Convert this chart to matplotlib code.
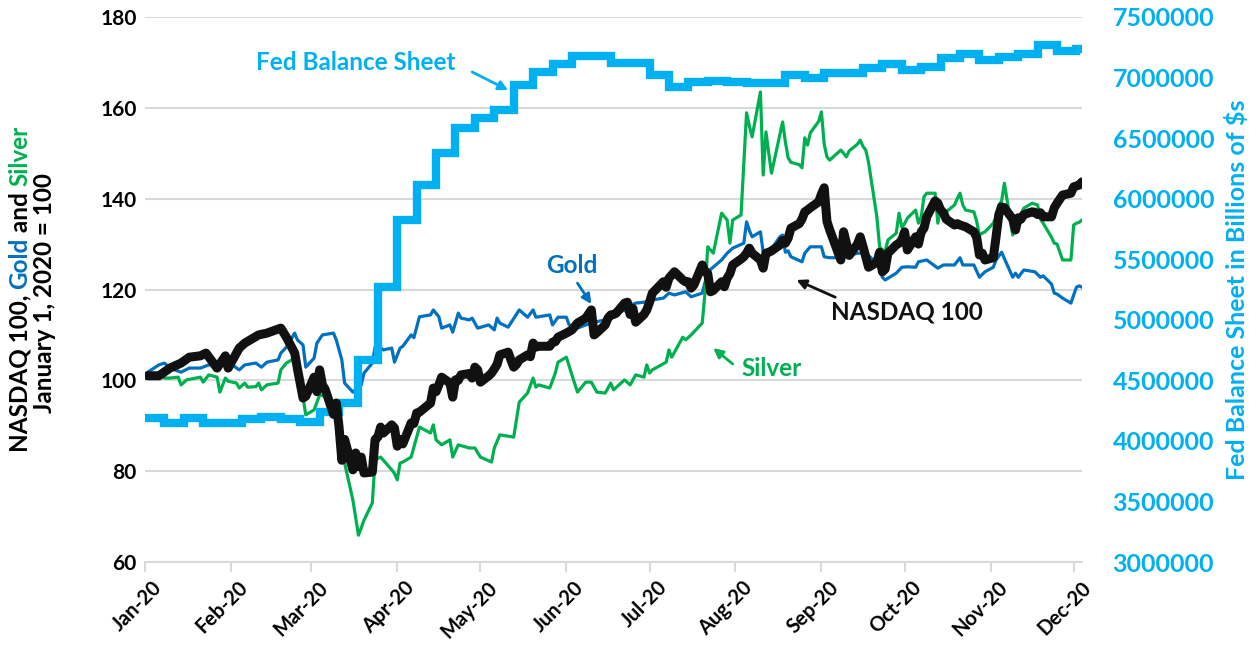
import matplotlib
matplotlib.use("Agg")
import matplotlib.pyplot as plt
import matplotlib.dates as mdates
import matplotlib.ticker as mticker
import matplotlib.transforms as mtransforms
import pandas as pd

plt.rcParams['font.family'] = ['Lato', 'DejaVu Sans']
plt.rcParams['font.weight'] = 'bold'

# ---------------- data ----------------
nasdaq_dates = [
    "01-02", "01-06", "01-10", "01-14", "01-17", "01-21", "01-23", "01-27", "01-30", "01-31",
    "02-04", "02-06", "02-11", "02-14", "02-19", "02-21", "02-24", "02-25", "02-27", "02-28",
    "03-02", "03-03", "03-04", "03-05", "03-06", "03-09", "03-10", "03-11", "03-12", "03-13", "03-16",
    "03-17", "03-18", "03-19", "03-20", "03-23", "03-24", "03-25", "03-26", "03-27", "03-30", "03-31",
    "04-01", "04-02", "04-03", "04-06", "04-07", "04-08", "04-09", "04-13", "04-14", "04-15", "04-16",
    "04-17", "04-20", "04-21", "04-22", "04-23", "04-24", "04-27", "04-28", "04-29", "04-30",
    "05-01", "05-04", "05-05", "05-06", "05-07", "05-08", "05-11", "05-12", "05-13", "05-14",
    "05-15", "05-18", "05-19", "05-20", "05-21", "05-22", "05-26", "05-27", "05-28", "05-29",
    "06-01", "06-03", "06-05", "06-08", "06-10", "06-11", "06-12", "06-15", "06-16", "06-17",
    "06-18", "06-19", "06-22", "06-23", "06-24", "06-25", "06-26", "06-29", "06-30",
    "07-01", "07-02", "07-06", "07-07", "07-08", "07-09", "07-10", "07-13", "07-14", "07-15", "07-16",
    "07-17", "07-20", "07-21", "07-22", "07-23", "07-24", "07-27", "07-28", "07-29", "07-30", "07-31",
    "08-03", "08-04", "08-05", "08-06", "08-07", "08-10", "08-11", "08-12", "08-13", "08-14",
    "08-17", "08-18", "08-19", "08-20", "08-21", "08-24", "08-25", "08-26", "08-27", "08-28", "08-31",
    "09-01", "09-02", "09-03", "09-04", "09-08", "09-09", "09-10", "09-11", "09-14", "09-15",
    "09-16", "09-17", "09-18", "09-21", "09-22", "09-23", "09-24", "09-25", "09-28", "09-29", "09-30",
    "10-01", "10-02", "10-05", "10-06", "10-07", "10-08", "10-09", "10-12", "10-13", "10-14", "10-15",
    "10-16", "10-19", "10-20", "10-21", "10-22", "10-23", "10-26", "10-27", "10-28", "10-29", "10-30",
    "11-02", "11-03", "11-04", "11-05", "11-06", "11-09", "11-10", "11-11", "11-12", "11-13",
    "11-16", "11-17", "11-18", "11-19", "11-20", "11-23", "11-24", "11-25", "11-27", "11-30",
    "12-01", "12-02", "12-03", "12-04",
]
nasdaq_values = [
    101.0, 101.0, 102.7, 103.8, 105.1, 105.4, 106.0, 102.7, 105.4, 102.7,
    107.1, 108.2, 110.0, 110.4, 111.5, 109.5, 106.0, 102.5, 96.1, 96.5,
    100.7, 97.5, 102.3, 99.0, 98.0, 92.5, 95.0, 89.7, 82.4, 87.0, 80.3,
    84.0, 81.0, 83.1, 79.6, 79.8, 87.0, 87.5, 89.7, 88.4, 90.2, 89.5,
    85.5, 87.0, 86.0, 90.6, 90.5, 92.8, 93.0, 95.0, 98.3, 97.5, 99.0,
    100.7, 99.4, 96.3, 100.1, 100.0, 101.2, 101.5, 100.5, 102.9, 102.3,
    99.6, 101.0, 101.6, 102.5, 103.5, 105.6, 106.2, 104.5, 102.9, 103.5,
    104.5, 105.6, 105.2, 108.2, 107.3, 107.5, 107.5, 108.4, 108.5, 109.5,
    110.4, 111.1, 112.6, 113.7, 115.5, 110.0, 110.5, 112.2, 113.7, 114.4,
    114.5, 114.8, 117.0, 117.2, 114.5, 115.8, 112.8, 114.5, 115.5,
    117.2, 119.2, 121.7, 120.5, 122.5, 123.2, 123.9, 122.1, 121.7, 121.7, 120.3,
    121.0, 125.4, 124.0, 123.5, 119.5, 119.8, 121.7, 120.6, 122.5, 123.5, 125.4,
    126.7, 127.2, 128.0, 129.1, 128.0, 126.5, 124.7, 128.0, 128.2, 128.5,
    129.8, 130.8, 130.2, 131.3, 133.5, 134.5, 135.5, 137.1, 137.5, 138.0, 139.3,
    141.0, 142.4, 135.0, 133.1, 126.5, 132.7, 130.2, 127.5, 130.0, 131.6,
    129.5, 127.2, 124.9, 126.0, 128.2, 123.9, 124.5, 128.0, 129.8, 130.2, 130.9,
    132.7, 128.7, 131.6, 130.0, 132.7, 133.5, 136.0, 139.5, 139.0, 137.5, 136.9,
    135.5, 134.2, 134.5, 134.2, 134.0, 133.8, 132.7, 131.5, 127.6, 128.0, 126.5,
    127.0, 131.6, 136.5, 138.2, 138.0, 135.5, 133.1, 135.8, 135.5, 136.5,
    137.1, 137.0, 136.5, 136.9, 136.0, 136.0, 138.0, 139.0, 140.8, 141.2,
    142.6, 142.8, 143.0, 143.7,
]

gold_dates = [
    "01-02", "01-06", "01-08", "01-10", "01-14", "01-17", "01-21", "01-24", "01-29", "01-31",
    "02-04", "02-06", "02-10", "02-12", "02-14", "02-18", "02-19", "02-21", "02-24", "02-25", "02-27", "02-28",
    "03-02", "03-03", "03-05", "03-09", "03-10", "03-12", "03-13", "03-16", "03-19", "03-20",
    "03-23", "03-24", "03-25", "03-27", "03-30", "03-31",
    "04-02", "04-03", "04-06", "04-07", "04-09", "04-13", "04-14", "04-16", "04-17", "04-20",
    "04-21", "04-23", "04-24", "04-27", "04-28", "04-30",
    "05-04", "05-06", "05-07", "05-08", "05-11", "05-15", "05-18", "05-20", "05-21", "05-26", "05-27", "05-29",
    "06-01", "06-02", "06-05", "06-08", "06-11", "06-15", "06-18", "06-22", "06-23", "06-24", "06-26", "06-29",
    "07-02", "07-06", "07-08", "07-10", "07-14", "07-16", "07-20", "07-22", "07-27", "07-29", "07-31",
    "08-04", "08-05", "08-06", "08-07", "08-10", "08-11", "08-13", "08-17", "08-18", "08-19",
    "08-20", "08-21", "08-25", "08-26", "08-28",
    "09-01", "09-02", "09-04", "09-08", "09-14", "09-17", "09-21", "09-23", "09-24", "09-28", "09-30",
    "10-02", "10-05", "10-06", "10-09", "10-13", "10-15", "10-19", "10-21", "10-22", "10-26", "10-28", "10-30",
    "11-02", "11-03", "11-05", "11-09", "11-10", "11-11", "11-13", "11-17", "11-19", "11-20",
    "11-23", "11-24", "11-25", "11-27", "11-30",
    "12-01", "12-02", "12-03", "12-04",
]
gold_values = [
    101.8, 103.4, 103.8, 102.7, 101.8, 102.7, 102.7, 103.4, 103.8, 104.0,
    102.3, 103.4, 103.8, 102.9, 104.0, 104.5, 106.0, 107.3, 110.4, 108.9, 107.8, 102.9,
    104.9, 108.2, 110.0, 110.4, 108.9, 104.5, 99.4, 97.4, 99.0, 101.6,
    103.8, 107.3, 107.5, 106.7, 107.1, 104.0,
    107.1, 107.5, 110.0, 109.4, 114.0, 114.4, 115.5, 114.0, 111.5, 112.2,
    110.6, 114.8, 113.7, 113.3, 113.7, 111.5,
    112.2, 111.1, 113.7, 112.6, 111.7, 115.5, 113.9, 115.5, 113.9, 114.4, 112.2, 113.9,
    113.9, 112.2, 111.5, 112.2, 112.8, 113.3, 114.4, 115.5, 114.8, 116.5, 117.0, 117.2,
    117.7, 118.1, 119.2, 118.8, 119.5, 118.4, 119.2, 123.9, 126.5, 128.0, 129.1,
    130.2, 134.9, 133.0, 131.6, 132.7, 128.2, 128.0, 131.6, 132.0, 128.2,
    128.5, 127.2, 126.1, 128.0, 129.4,
    129.4, 127.2, 127.0, 127.0, 128.0, 128.0, 125.8, 122.7, 122.1, 123.6, 124.9,
    125.0, 124.9, 126.1, 126.5, 124.7, 125.4, 125.4, 127.0, 125.4, 125.4, 122.7, 123.9,
    124.9, 126.5, 128.2, 122.7, 123.6, 122.7, 124.3, 123.9, 122.7, 123.0,
    121.2, 119.2, 119.0, 118.1, 117.0,
    118.8, 120.5, 120.8, 120.5,
]

silver_dates = [
    "01-02", "01-03", "01-06", "01-08", "01-10", "01-13", "01-14", "01-16", "01-21", "01-22",
    "01-24", "01-27", "01-28", "01-30", "01-31",
    "02-03", "02-04", "02-06", "02-07", "02-10", "02-11", "02-12", "02-14", "02-18", "02-19",
    "02-21", "02-24", "02-25", "02-27", "02-28",
    "03-02", "03-04", "03-06", "03-09", "03-10", "03-11", "03-12", "03-13", "03-16", "03-18",
    "03-19", "03-20", "03-23", "03-24", "03-26", "03-30", "03-31",
    "04-01", "04-02", "04-03", "04-06", "04-07", "04-09", "04-13", "04-14", "04-15", "04-17",
    "04-20", "04-21", "04-23", "04-27", "04-29",
    "05-01", "05-05", "05-06", "05-08", "05-13", "05-15", "05-18", "05-20", "05-21", "05-22",
    "05-26", "05-28", "05-29",
    "06-01", "06-03", "06-05", "06-08", "06-10", "06-12", "06-15", "06-17", "06-18", "06-22",
    "06-24", "06-26", "06-29", "06-30",
    "07-01", "07-02", "07-07", "07-08", "07-09", "07-13", "07-14", "07-16", "07-20", "07-21",
    "07-22", "07-24", "07-27", "07-29", "07-30", "07-31",
    "08-03", "08-05", "08-06", "08-07", "08-10", "08-11", "08-12", "08-13", "08-14", "08-17",
    "08-18", "08-19", "08-20", "08-21", "08-24", "08-25", "08-26", "08-27", "08-28", "08-31",
    "09-01", "09-02", "09-03", "09-04", "09-08", "09-09", "09-10", "09-11", "09-14", "09-15",
    "09-16", "09-17", "09-18", "09-21", "09-22", "09-23", "09-24", "09-25", "09-28", "09-29", "09-30",
    "10-01", "10-02", "10-05", "10-06", "10-07", "10-08", "10-09", "10-12", "10-13", "10-14", "10-15",
    "10-16", "10-19", "10-20", "10-21", "10-22", "10-23", "10-26", "10-27", "10-28", "10-29", "10-30",
    "11-02", "11-03", "11-04", "11-05", "11-06", "11-09", "11-10", "11-11", "11-12", "11-13",
    "11-16", "11-17", "11-18", "11-19", "11-20", "11-23", "11-24", "11-25", "11-27", "11-30",
    "12-01", "12-02", "12-03", "12-04",
]
silver_values = [
    100.8, 101.5, 101.5, 100.5, 100.5, 100.7, 99.0, 100.1, 100.7, 99.6,
    101.2, 100.7, 97.4, 100.5, 99.8,
    99.4, 98.3, 99.4, 98.5, 98.6, 99.4, 97.9, 99.0, 99.4, 102.3,
    103.8, 104.9, 100.7, 96.3, 92.4,
    93.5, 96.8, 96.5, 95.0, 95.5, 93.5, 88.0, 81.8, 73.6, 65.9,
    67.5, 69.2, 73.0, 82.5, 83.1, 80.3, 79.5,
    78.1, 81.8, 82.0, 83.1, 85.3, 89.7, 88.4, 90.2, 86.9, 85.8,
    86.9, 83.1, 85.8, 85.1, 85.1,
    83.1, 82.0, 85.1, 88.0, 87.5, 95.2, 97.2, 100.5, 98.5, 99.0,
    98.3, 101.6, 104.0,
    105.1, 101.2, 97.4, 99.6, 99.6, 97.4, 97.2, 99.4, 97.9, 100.1,
    99.0, 101.2, 100.7, 103.4,
    101.6, 102.3, 104.0, 106.7, 105.1, 109.5, 108.9, 110.0, 112.6, 119.2,
    129.4, 128.0, 136.8, 135.3, 130.2, 135.3,
    136.4, 158.9, 156.0, 153.6, 163.5, 145.2, 154.7, 150.0, 145.6, 154.0,
    156.9, 152.5, 149.0, 148.0, 147.5, 146.8, 153.4, 151.8, 154.5, 157.0,
    159.1, 152.0, 149.2, 148.5, 150.7, 150.0, 149.2, 150.5, 152.0, 152.9,
    151.5, 150.7, 148.0, 136.0, 129.4, 128.7, 128.5, 130.9, 132.4, 136.8, 133.7,
    134.5, 135.7, 137.5, 134.6, 136.0, 140.4, 141.2, 141.2, 134.6, 138.2, 137.5,
    137.1, 138.6, 140.0, 141.2, 138.6, 137.5, 137.1, 135.0, 132.0, 132.4, 132.7,
    134.6, 136.0, 138.6, 139.5, 143.4, 132.0, 133.5, 134.6, 136.5, 137.9,
    139.0, 138.8, 138.6, 135.5, 134.6, 131.5, 130.2, 130.0, 126.5, 126.5,
    134.2, 134.6, 134.8, 135.3,
]

fed_dates = [
    "01-01", "01-08", "01-15", "01-22", "01-29", "02-05", "02-12", "02-19", "02-26",
    "03-04", "03-11", "03-18", "03-25", "04-01", "04-08", "04-15", "04-22", "04-29",
    "05-06", "05-13", "05-20", "05-27", "06-03", "06-10", "06-17", "06-24",
    "07-01", "07-08", "07-15", "07-22", "07-29", "08-05", "08-12", "08-19", "08-26",
    "09-02", "09-09", "09-16", "09-23", "09-30", "10-07", "10-14", "10-21", "10-28",
    "11-04", "11-11", "11-18", "11-25", "12-02", "12-04",
]
fed_values = [
    4190000, 4150000, 4190000, 4150000, 4150000, 4180000, 4195000, 4180000, 4160000,
    4240000, 4310000, 4670000, 5270000, 5825000, 6115000, 6375000, 6585000, 6665000,
    6730000, 6940000, 7045000, 7110000, 7180000, 7180000, 7120000, 7120000,
    7020000, 6920000, 6960000, 6975000, 6965000, 6955000, 6955000, 7020000, 6995000,
    7035000, 7035000, 7075000, 7110000, 7060000, 7090000, 7165000, 7195000, 7145000,
    7170000, 7195000, 7265000, 7220000, 7235000, 7235000,
]

left_ticks = [60, 80, 100, 120, 140, 160, 180]
right_ticks = [3000000, 3500000, 4000000, 4500000, 5000000, 5500000,
               6000000, 6500000, 7000000, 7500000]


def to_dt(lst):
    return pd.to_datetime(["2020-" + s for s in lst])


C_FED = "#00B0F0"
C_GOLD = "#0070C0"
C_SILVER = "#00B050"
C_NDX = "#111111"
C_GRID = "#D9D9D9"

W, H = 1249, 659
fig = plt.figure(figsize=(W / 100, H / 100), dpi=100)
ax = fig.add_axes([145 / W, 1 - 562 / H, (1082 - 145) / W, (562 - 17) / H])

# left axis: gold & silver
ax.plot(to_dt(gold_dates), gold_values, color=C_GOLD, lw=2.3, solid_joinstyle='round', zorder=3)
ax.plot(to_dt(silver_dates), silver_values, color=C_SILVER, lw=2.3, solid_joinstyle='round', zorder=4)
ax.set_ylim(60, 180)
ax.set_yticks(left_ticks)
ax.set_xlim(pd.Timestamp("2020-01-01"), pd.Timestamp("2020-12-04"))
ax.grid(axis='y', color=C_GRID, lw=1.5)
ax.set_axisbelow(True)
for s in ['top', 'right', 'left']:
    ax.spines[s].set_visible(False)
ax.spines['bottom'].set_color(C_GRID)
ax.spines['bottom'].set_linewidth(1.5)
ax.tick_params(axis='y', length=0, pad=6, labelsize=15, labelcolor='black')
ax.xaxis.set_major_locator(mdates.MonthLocator())
ax.xaxis.set_major_formatter(mdates.DateFormatter('%b-%y'))
ax.tick_params(axis='x', direction='out', length=7, width=1.5, color=C_GRID,
               labelsize=14.5, pad=2)
for lab in ax.get_xticklabels():
    lab.set_rotation(45)
    lab.set_ha('right')
    lab.set_va('top')
    lab.set_rotation_mode('anchor')
    lab.set_fontweight('bold')
    lab.set_transform(lab.get_transform() + mtransforms.ScaledTranslation(7 / 100, -3 / 100, fig.dpi_scale_trans))
for lab in ax.get_yticklabels():
    lab.set_fontweight('bold')

# right axis: Fed balance sheet
ax2 = ax.twinx()
ax2.plot(to_dt(fed_dates), fed_values, color=C_FED, lw=6, drawstyle='steps-post',
         solid_joinstyle='miter', solid_capstyle='butt')
ax2.set_ylim(3000000, 7500000)
ax2.set_yticks(right_ticks)
ax2.yaxis.set_major_formatter(mticker.StrMethodFormatter('{x:.0f}'))
for s in ax2.spines.values():
    s.set_visible(False)
ax2.tick_params(axis='y', length=0, pad=22, labelsize=18, labelcolor=C_FED)
for lab in ax2.get_yticklabels():
    lab.set_fontweight('bold')
ax2.set_ylabel("Fed Balance Sheet in Billions of $s", color=C_FED, fontsize=18,
               fontweight='bold', labelpad=8)

# top layer: NASDAQ 100 (same left scale)
ax3 = ax.twinx()
ax3.plot(to_dt(nasdaq_dates), nasdaq_values, color=C_NDX, lw=6.5, solid_joinstyle='round',
         solid_capstyle='round')
ax3.set_ylim(60, 180)
ax3.axis('off')

# annotations (left-axis data coordinates)
arrow_kw = dict(arrowstyle='-|>', lw=2, mutation_scale=14, shrinkA=0, shrinkB=0)
ax3.text(pd.Timestamp("2020-03-17"), 169.9, "Fed Balance Sheet", color=C_FED,
         fontsize=17.5, fontweight='bold', ha='center', va='center')
ax3.annotate("", xy=(pd.Timestamp("2020-05-11"), 163.9), xytext=(pd.Timestamp("2020-04-28"), 167.9),
             arrowprops=dict(color=C_FED, **arrow_kw))
ax3.text(pd.Timestamp("2020-06-03"), 125.2, "Gold", color=C_GOLD,
         fontsize=17.5, fontweight='bold', ha='center', va='center')
ax3.annotate("", xy=(pd.Timestamp("2020-06-10"), 116.8), xytext=(pd.Timestamp("2020-06-05"), 121.4),
             arrowprops=dict(color=C_GOLD, **arrow_kw))
ax3.text(pd.Timestamp("2020-10-02"), 115.0, "NASDAQ 100", color=C_NDX,
         fontsize=17.5, fontweight='bold', ha='center', va='center')
ax3.annotate("", xy=(pd.Timestamp("2020-08-23"), 122.1), xytext=(pd.Timestamp("2020-09-06"), 118.3),
             arrowprops=dict(color=C_NDX, **arrow_kw))
ax3.text(pd.Timestamp("2020-08-14"), 102.7, "Silver", color=C_SILVER,
         fontsize=17.5, fontweight='bold', ha='center', va='center')
ax3.annotate("", xy=(pd.Timestamp("2020-07-24"), 107.1), xytext=(pd.Timestamp("2020-07-31"), 103.6),
             arrowprops=dict(color=C_SILVER, **arrow_kw))

# multi-coloured vertical left label
renderer = fig.canvas.get_renderer()


def text_len(s, size):
    if not s:
        return 0.0
    t = fig.text(0, 0, s + "|", fontsize=size, fontweight='bold')
    t2 = fig.text(0, 0, "|", fontsize=size, fontweight='bold')
    w = t.get_window_extent(renderer).width - t2.get_window_extent(renderer).width
    t.remove()
    t2.remove()
    return w


def vertical_multicolor(x_px, yc_px, parts, size):
    full = "".join(p for p, _ in parts)
    total = text_len(full, size)
    bottom = H - (yc_px + total / 2)   # figure pixels from bottom
    prefix = ""
    for s, c in parts:
        off = text_len(prefix, size)
        fig.text(x_px / W, (bottom + off) / H, s, color=c, fontsize=size, fontweight='bold',
                 rotation=90, rotation_mode='anchor', ha='left', va='center')
        prefix += s


vertical_multicolor(20, 289, [("NASDAQ 100, ", "black"), ("Gold", C_GOLD),
                              (" and ", "black"), ("Silver", C_SILVER)], 17.5)
vertical_multicolor(45, 293, [("January 1, 2020 = 100", "black")], 17.5)

fig.savefig("out.png", dpi=100)
